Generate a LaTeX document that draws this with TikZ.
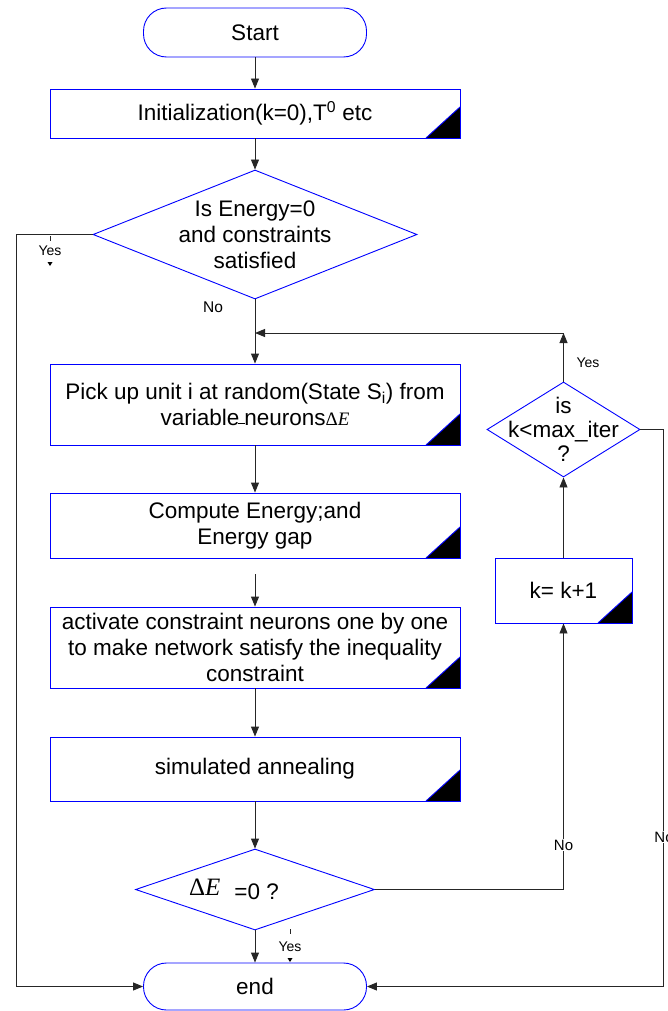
\documentclass[tikz,border=0pt]{standalone}
\usepackage{fontspec}
\setmainfont{Liberation Sans}
\newfontfamily\deltafont{Liberation Serif}
\usepackage{tikz}
\usetikzlibrary{arrows.meta,shapes.geometric}
\definecolor{flowblue}{HTML}{0000FF}

\begin{document}
\begin{tikzpicture}[
    x=1pt, y=-1pt,
    font=\fontsize{22.5}{26}\selectfont,
    base/.style={draw=flowblue, line width=0.9pt, fill=white, align=center, inner sep=2pt},
    terminal/.style={base, rectangle, rounded corners=23pt, minimum width=223pt, minimum height=49pt},
    process/.style={base, rectangle, minimum width=410pt, path picture={
        \fill[black] (path picture bounding box.south east) -- ++(-34pt,0pt) -- ++(34pt,31pt) -- cycle;
        \draw[flowblue, line width=0.9pt] (path picture bounding box.south east) ++(-34pt,0pt) -- ++(34pt,31pt);}},
    decision/.style={base, diamond, inner sep=0pt},
    flow/.style={draw=black!85, line width=0.9pt},
    arrow/.style={flow, -{Triangle[length=10pt,width=8pt]}},
    tag/.style={font=\fontsize{14}{16}\selectfont, inner sep=1pt}
]
\useasboundingbox (0,0) rectangle (667,1011);

% main column
\node[terminal] (start) at (255,32.5) {Start};
\node[process, minimum height=49pt] (init) at (255,113.5) {Initialization(k=0),T\textsuperscript{0} etc};
\node[decision, minimum width=324pt, minimum height=129pt,
      label={[align=center]center:Is Energy=0\\and constraints\\satisfied}] (energy) at (255,234.5) {};
\node[process, minimum height=81pt] (pick) at (255,404.5)
    {Pick up unit i at random(State S\textsubscript{i}) from\\
     variable\kern-1pt\rule[2pt]{7pt}{0.8pt}\kern-1pt neurons{\deltafont\fontsize{19}{19}\selectfont Δ\textit{E}}};
\node[process, minimum height=65pt] (compute) at (255,525.5) {Compute Energy;and\\Energy gap};
\node[process, minimum height=81pt] (activate) at (255,647.5)
    {activate constraint neurons one by one\\to make network satisfy the inequality\\constraint};
\node[process, minimum height=64pt] (anneal) at (255,769) {simulated annealing};
\node[decision, minimum width=239pt, minimum height=81pt,
      label={[xshift=-21pt]center:\raisebox{4pt}{\deltafont\fontsize{25}{25}\selectfont Δ\textit{E}}\hspace{14pt}=0 ?}] (gap) at (255,889.5) {};
\node[terminal, minimum height=47pt] (stop) at (255,986.5) {end};

% loop column
\node[process, minimum width=137pt, minimum height=65pt] (incr) at (563.5,590.5) {k= k+1};
\node[decision, minimum width=153pt, minimum height=95pt,
      label={[align=center, font=\fontsize{22.5}{24}\selectfont]center:is\\k<max\_iter\\?}] (iter) at (563.5,429.5) {};

\coordinate (join) at (255,333);
\coordinate (turn) at (563.5,333);
\coordinate (leftrail) at (16,234.5);
\coordinate (rightrail) at (663,429.5);

\draw[arrow] (start) -- (init);
\draw[arrow] (init) -- (energy);
\draw[arrow] (energy) -- (pick);
\draw[arrow] (pick) -- (compute);
\draw[arrow] ([yshift=-16pt]compute.south) -- (activate);
\draw[arrow] (activate) -- (anneal);
\draw[arrow] (anneal) -- (gap);
\draw[arrow] (gap) -- (stop);
\draw[arrow] (gap.east) -| (incr.south);
\draw[arrow] (incr) -- (iter);
\draw[arrow] (iter) -- (turn);
\draw[arrow] (turn) -- (join);
\draw[arrow] (iter.east) -- (rightrail) |- (stop.east);
\draw[arrow] (energy.west) -- (leftrail) |- (stop.west);

% branch tags
\node[tag] (yesout) at (50,251) {Yes};
\draw[flow, line width=0.6pt] (50,236) -- (50,241);
\fill (47.5,262) -- (52.5,262) -- (50,266) -- cycle;
\node[tag, font=\fontsize{15.5}{17}\selectfont] (noin) at (213,307) {No};
\node[tag] (yesloop) at (588,363) {Yes};
\node[tag, font=\fontsize{15}{17}\selectfont, fill=white] (noincr) at (563.5,845) {No};
\node[tag, font=\fontsize{15}{17}\selectfont, fill=white] (noiter) at (664,837) {No};
\node[tag] (yesstop) at (290,947) {Yes};
\draw[flow, line width=0.6pt] (290,929) -- (290,934);
\fill (287.5,958) -- (292.5,958) -- (290,962) -- cycle;
\end{tikzpicture}
\end{document}
